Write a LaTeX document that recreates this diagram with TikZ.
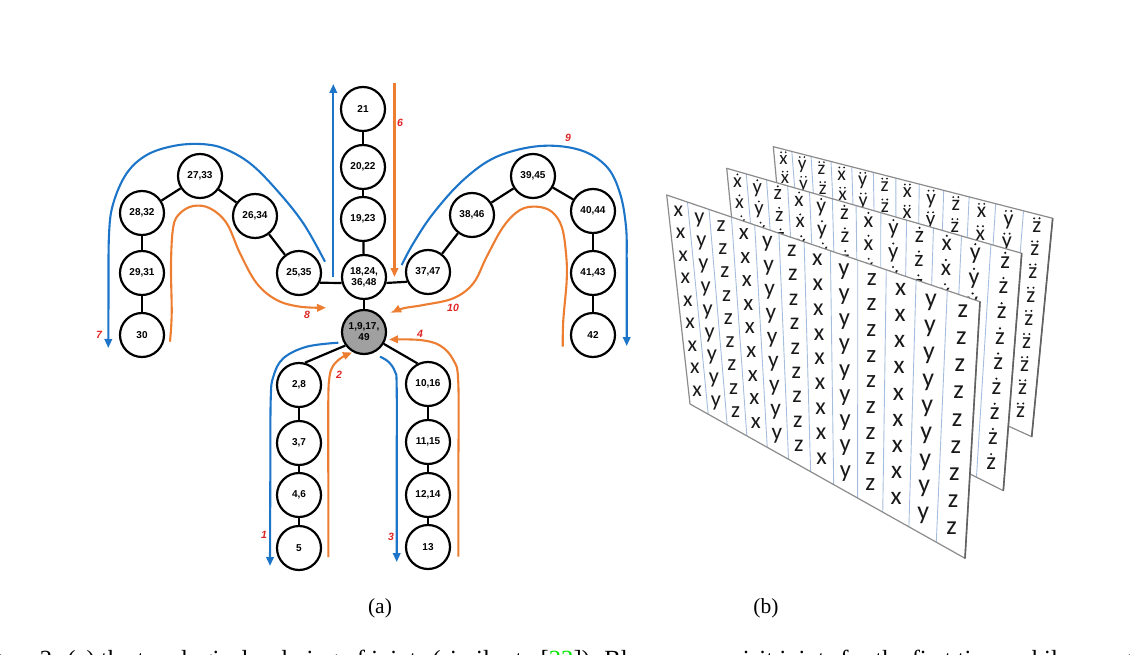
\documentclass[tikz,border=0pt]{standalone}
\usepackage{fontspec}
\setmainfont{Liberation Serif}
\newfontfamily\nodefont{Liberation Sans}
\newfontfamily\sheetfont{Carlito}
\usetikzlibrary{calc,arrows.meta}

\definecolor{arrblue}{RGB}{28,117,200}
\definecolor{arrorange}{RGB}{237,125,49}
\definecolor{lblred}{RGB}{224,36,36}
\definecolor{hubgray}{RGB}{160,160,160}
\definecolor{collinecol}{RGB}{165,190,222}
\definecolor{sheetedgecol}{RGB}{140,140,140}
\definecolor{citegreen}{RGB}{0,230,0}

% sheet corners (pixel coordinates, y downwards)
\newcommand\setsheet[8]{\def\TLx{#1}\def\TLy{#2}\def\TRx{#3}\def\TRy{#4}\def\BRx{#5}\def\BRy{#6}\def\BLx{#7}\def\BLy{#8}}
% occluding sheet: its top-left, top-right, bottom-right corners
\newcommand\setocc[6]{\def\oAx{#1}\def\oAy{#2}\def\oBx{#3}\def\oBy{#4}\def\oCx{#5}\def\oCy{#6}}

\newcommand\drawsheet[1]{%
  \pgfmathsetmacro\oSt{(\oBy-\oAy)/(\oBx-\oAx)}%
  \pgfmathsetmacro\oSr{(\oCx-\oBx)/(\oCy-\oBy)}%
  \fill[white] (\TLx,\TLy)--(\TRx,\TRy)--(\BRx,\BRy)--(\BLx,\BLy)--cycle;
  \foreach \ci in {1,...,11}{%
    \pgfmathsetmacro\shT{\ci/12}%
    \pgfmathsetmacro\shS{\shT/(1.28-0.28*\shT)}%
    \draw[collinestyle] ({\TLx+\shS*(\TRx-\TLx)},{\TLy+\shS*(\TRy-\TLy)}) -- ({\BLx+\shS*(\BRx-\BLx)},{\BLy+\shS*(\BRy-\BLy)});
  }
  \foreach \ci in {0,...,11}{%
    \pgfmathsetmacro\shM{(\ci+0.5)/12}%
    \pgfmathsetmacro\sM{\shM/(1.28-0.28*\shM)}%
    \pgfmathsetmacro\cTx{\TLx+\sM*(\TRx-\TLx)}%
    \pgfmathsetmacro\cTy{\TLy+\sM*(\TRy-\TLy)}%
    \pgfmathsetmacro\cBx{\BLx+\sM*(\BRx-\BLx)}%
    \pgfmathsetmacro\cBy{\BLy+\sM*(\BRy-\BLy)}%
    \pgfmathsetmacro\shF{0.104*(\cBy-\cTy)}%
    \pgfmathsetmacro\shR{0.05*\shF}%
    \pgfmathsetmacro\shX{0.12*\shF}%
    \pgfmathtruncatemacro\shL{mod(\ci,3)}%
    \foreach \rj in {0,...,8}{%
      \pgfmathsetmacro\shV{0.06+\rj*0.107}%
      \pgfmathsetmacro\pX{\cTx+\shV*(\cBx-\cTx)}%
      \pgfmathsetmacro\pY{\cTy+\shV*(\cBy-\cTy)}%
      \pgfmathsetmacro\eY{\oAy+(\pX-\oAx)*\oSt}%
      \pgfmathsetmacro\eX{\oBx+(\pY-\oBy)*\oSr}%
      \pgfmathtruncatemacro\hid{and(\pY-0.75*\shF>\eY,\pX+0.3*\shF<\eX)}%
      \pgfmathsetmacro\bY{\pY+0.23*\shF}%
      \pgfmathsetmacro\dY{\pY-0.41*\shF}%
      \pgfmathsetmacro\dXa{\pX-\shX}%
      \pgfmathsetmacro\dXb{\pX+\shX}%
      \ifnum\hid=0
        \node[anchor=base,inner sep=0pt,text=black!90,font=\sheetfont\fontsize{\shF}{\shF}\selectfont] at (\pX,\bY) {\ifcase\shL x\or y\else z\fi};
        \ifnum#1=1 \fill[black!90] (\pX,\dY) circle[radius=\shR pt];\fi
        \ifnum#1=2 \fill[black!90] (\dXa,\dY) circle[radius=\shR pt] (\dXb,\dY) circle[radius=\shR pt];\fi
      \fi
    }
  }
  \draw[sheetedgestyle] (\TLx,\TLy)--(\TRx,\TRy)--(\BRx,\BRy)--(\BLx,\BLy)--cycle;
  \draw[sheetedgecol!70!black,line width=1.6pt] (\TRx,\TRy)--(\BRx,\BRy);
}

\begin{document}
\begin{tikzpicture}[x=1pt,y=-1pt,
  joint/.style={circle,draw=black,line width=2.2pt,fill=white,minimum size=44pt,inner sep=0pt,
    font=\nodefont\bfseries\fontsize{10}{11}\selectfont,align=center},
  bone/.style={line width=2.2pt},
  bluearr/.style={arrblue,line width=2.1pt,-{Triangle[length=9pt,width=7.5pt]}},
  orangearr/.style={arrorange,line width=2.1pt,-{Triangle[length=9pt,width=7.5pt]}},
  num/.style={text=lblred,inner sep=0pt,font=\nodefont\bfseries\itshape\fontsize{10.5}{11}\selectfont},
  collinestyle/.style={collinecol,line width=0.9pt},
  sheetedgestyle/.style={sheetedgecol,line width=1.2pt,line join=round},
  panel/.style={inner sep=0pt,font=\fontsize{21.5}{25}\selectfont},
  capstyle/.style={inner sep=0pt,font=\fontsize{24.7}{29}\selectfont},
]
\useasboundingbox (0,0) rectangle (1134,655);

% ---------------- (a) skeleton -----------------
\node[joint] (n21) at (363,109) {21};
\node[joint] (n20) at (363,167) {20,22};
\node[joint] (n19) at (363,219) {19,23};
\node[joint] (n18) at (364,277) {18,24,\\36,48};
\node[joint,fill=hubgray] (hub) at (364,332) {1,9,17,\\49};
\node[joint] (n27) at (200,176) {27,33};
\node[joint] (n28) at (142,213) {28,32};
\node[joint] (n26) at (255,216) {26,34};
\node[joint] (n25) at (299,273) {25,35};
\node[joint] (n29) at (142,273) {29,31};
\node[joint] (n30) at (142,335) {30};
\node[joint] (n39) at (533,176) {39,45};
\node[joint] (n38) at (472,215) {38,46};
\node[joint] (n40) at (593,211) {40,44};
\node[joint] (n37) at (428,272) {37,47};
\node[joint] (n41) at (593,273) {41,43};
\node[joint] (n42) at (593,335) {42};
\node[joint] (n2) at (299,385) {2,8};
\node[joint] (n3) at (299,443) {3,7};
\node[joint] (n4) at (299,495) {4,6};
\node[joint] (n5) at (299,548) {5};
\node[joint] (n10) at (428,384) {10,16};
\node[joint] (n11) at (428,442) {11,15};
\node[joint] (n12) at (428,495) {12,14};
\node[joint] (n13) at (428,547) {13};

\draw[bone] (n21) -- (n20);
\draw[bone] (n20) -- (n19);
\draw[bone] (n19) -- (n18);
\draw[bone] (n18) -- (hub);
\draw[bone] (n25.-25) -- (n18.195);
\draw[bone] (n18.-15) -- (n37.205);
\draw[bone] (n25) -- (n26);
\draw[bone] (n26) -- (n27);
\draw[bone] (n27) -- (n28);
\draw[bone] (n28) -- (n29);
\draw[bone] (n29) -- (n30);
\draw[bone] (n37) -- (n38);
\draw[bone] (n38) -- (n39);
\draw[bone] (n39) -- (n40);
\draw[bone] (n40) -- (n41);
\draw[bone] (n41) -- (n42);
\draw[bone] (hub.216) -- (n2.75);
\draw[bone] (hub.-31) -- (n10.117);
\draw[bone] (n2) -- (n3);
\draw[bone] (n3) -- (n4);
\draw[bone] (n4) -- (n5);
\draw[bone] (n10) -- (n11);
\draw[bone] (n11) -- (n12);
\draw[bone] (n12) -- (n13);

% arrows
\draw[bluearr] plot[smooth,tension=0.6] coordinates {(338.3,342.7) (306.7,346.7) (283.3,358.3) (273.3,376.7) (270.7,400) (270.3,480) (270,566)};
\draw[orangearr] plot[smooth,tension=0.6] coordinates {(328.3,557) (328.3,480) (328.3,400) (329.5,376.7) (333,366) (341,358) (352,352.5)};
\draw[bluearr] plot[smooth,tension=0.6] coordinates {(380,356.7) (388.3,361.7) (395,371.7) (396.7,388) (396.7,480) (396.7,562)};
\draw[orangearr] plot[smooth,tension=0.6] coordinates {(458.3,556.7) (458.3,480) (458.3,383.3) (453.3,360) (440,345.5) (420,340) (389,339.5)};
\draw[bluearr] (333.3,277) -- (333.3,84);
\draw[orangearr] (394.5,83) -- (394.5,277);
\draw[bluearr] plot[smooth,tension=0.6] coordinates {(325,261.7) (303.3,223.3) (276.7,190) (250,163.3) (223.3,148.3) (200,144) (173.3,146) (146.7,155) (126.7,173.3) (113.3,203.3) (109,235) (108.5,300) (108.3,348)};
\draw[orangearr] plot[smooth,tension=0.6] coordinates {(170,341.7) (171.7,313.3) (171,263.3) (173.3,226.7) (180,213.3) (193.3,206) (210,208.3) (226.7,223.3) (240,253.3) (256.7,283.3) (276.7,300) (300,306.7) (326,307.7)};
\draw[bluearr] plot[smooth,tension=0.6] coordinates {(401.7,265) (413.3,243.3) (433.3,213.3) (463.3,180) (496.7,156.7) (540,146) (580,150) (606.7,166.7) (620,193.3) (626,226.7) (626.7,260) (626.7,300) (626.7,346)};
\draw[orangearr] plot[smooth,tension=0.6] coordinates {(562.7,346.7) (563.3,320) (566.7,280) (566,253.3) (561.7,226.7) (551.7,211.7) (536.7,206.7) (520,210) (503.3,226.7) (486.7,256.7) (473.3,283.3) (453.3,298.3) (423.3,305) (403.3,308.3) (392,312.7)};

\node[num] (l1) at (264,535) {1};
\node[num] (l2) at (339,375) {2};
\node[num] (l3) at (391,537) {3};
\node[num] (l4) at (420,334) {4};
\node[num] (l6) at (400,123) {6};
\node[num] (l7) at (99,335) {7};
\node[num] (l8) at (307,315) {8};
\node[num] (l9) at (568,138) {9};
\node[num] (l10) at (453,308) {10};

% ---------------- (b) sheets -----------------
\setsheet{773.3}{146.7}{1052.7}{218.3}{1031.7}{436.7}{790}{327}
\setocc{726.7}{168.3}{1021.7}{253.3}{1003.3}{490.7}
\drawsheet{2}
\setsheet{726.7}{168.3}{1021.7}{253.3}{1003.3}{490.7}{746}{362}
\setocc{666.7}{195}{980}{301.7}{965}{558.3}
\drawsheet{1}
\setsheet{666.7}{195}{980}{301.7}{965}{558.3}{690}{404}
\setocc{-1000}{2000}{2000}{2000}{2000}{3000}
\drawsheet{0}

% ---------------- captions -----------------
\node[panel] (capa) at (380,608) {(a)};
\node[panel] (capb) at (766,608) {(b)};
\begin{scope}
\clip (0,0) rectangle (1134,655);
\node[capstyle,anchor=base west] (capline) at (-31,667) {Figure 2: (a) the topological ordering of joints (similar to [\textcolor{citegreen}{22}]). Blue arrows visit joints for the first time, while orange arrows revisit};
\end{scope}
\end{tikzpicture}
\end{document}
